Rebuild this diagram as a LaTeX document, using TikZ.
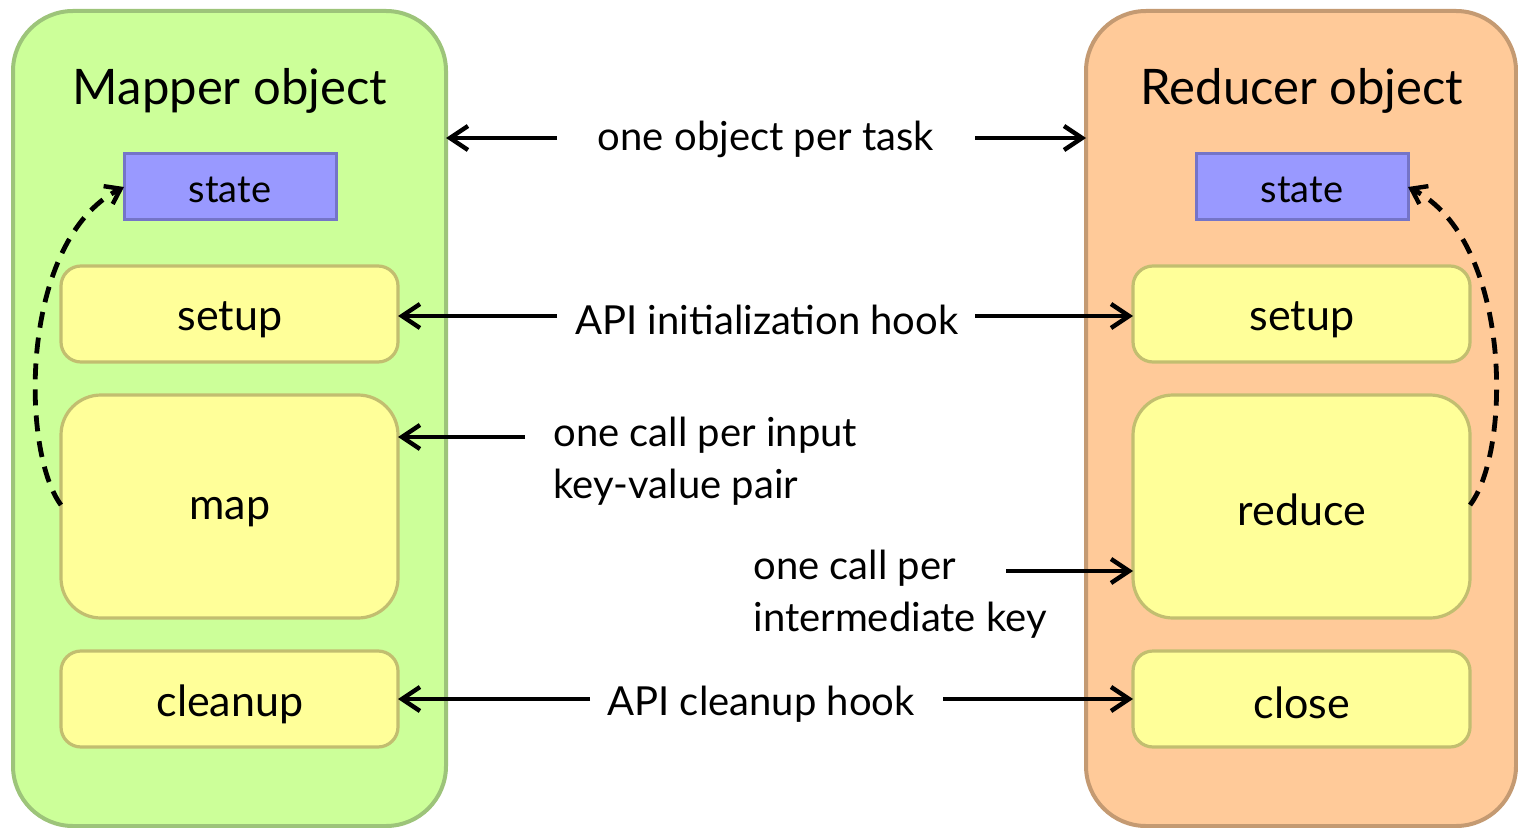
\documentclass[tikz,border=0pt]{standalone}
\usepackage{fontspec}
\setmainfont{Lato}
\usetikzlibrary{arrows.meta}
\definecolor{mapfill}{HTML}{CCFF99}
\definecolor{mapline}{HTML}{9DC47A}
\definecolor{redfill}{HTML}{FFCA99}
\definecolor{redline}{HTML}{C49A72}
\definecolor{statefill}{HTML}{9999FF}
\definecolor{stateline}{HTML}{7474C8}
\definecolor{boxfill}{HTML}{FFFF99}
\definecolor{boxline}{HTML}{C2BE70}
\tikzset{
  objbox/.style={draw=#1, line width=2pt, rounded corners=30pt},
  statebox/.style={draw=stateline, fill=statefill, line width=1.5pt},
  statelabel/.style={font=\fontsize{19}{22}\selectfont},
  callbox/.style={draw=boxline, fill=boxfill, line width=1.6pt, rounded corners=10pt},
  bigcall/.style={callbox, rounded corners=20pt},
  calllabel/.style={font=\fontsize{21.5}{26}\selectfont},
  hook/.style={line width=2.2pt, -{Straight Barb[length=9pt,width=12pt,line width=2.2pt]}},
  loopback/.style={line width=2.4pt, dash pattern=on 8pt off 5pt, -{Straight Barb[length=7pt,width=10pt,line width=2.2pt]}},
  caption/.style={font=\fontsize{20}{26}\selectfont, inner sep=0pt},
  title/.style={font=\fontsize{24.5}{28}\selectfont, inner sep=0pt}
}
\begin{document}
\begin{tikzpicture}[x=0.5pt,y=-0.5pt]
\useasboundingbox (0,0) rectangle (1518,828);
% object containers
\draw[objbox=mapline, fill=mapfill] (13,11) rectangle (446,826);
\draw[objbox=redline, fill=redfill] (1086,11) rectangle (1516,826);
\node[title] (mtitle) at (230,91) {Mapper object};
\node[title] (rtitle) at (1302,91) {Reducer object};
% mapper parts
\path[statebox] (124,154) rectangle (336,220);
\node[statelabel] (mstate) at (230,190) {state};
\coordinate (mstateW) at (124,187);
\draw[callbox] (61,266) rectangle (398,362);
\node[calllabel] (msetup) at (230,320) {setup};
\draw[bigcall] (61,395) rectangle (398,618);
\node[calllabel] (mmap) at (230,512) {map};
\draw[callbox] (61,651) rectangle (398,747);
\node[calllabel] (mclean) at (230,704) {cleanup};
% reducer parts
\path[statebox] (1196,154) rectangle (1408,220);
\node[statelabel] (rstate) at (1302,190) {state};
\coordinate (rstateE) at (1408,187);
\draw[callbox] (1133,266) rectangle (1470,362);
\node[calllabel] (rsetup) at (1302,320) {setup};
\draw[bigcall] (1133,395) rectangle (1470,618);
\node[calllabel] (rreduce) at (1302,510) {reduce};
\draw[callbox] (1133,651) rectangle (1470,747);
\node[calllabel] (rclose) at (1302,703) {close};
% edge anchors of the boxes
\coordinate (mobjE) at (446,138);
\coordinate (robjW) at (1086,138);
\coordinate (msetupE) at (398,316);
\coordinate (rsetupW) at (1133,316);
\coordinate (mmapE) at (398,437);
\coordinate (mmapW) at (61,505);
\coordinate (rredW) at (1133,571);
\coordinate (rredE) at (1470,505);
\coordinate (mcleanE) at (398,699);
\coordinate (rcloseW) at (1133,699);
% captions
\node[caption] (task) at (766,139) {one object per task};
\node[caption] (init) at (767,320) {API initialization hook};
\node[caption, align=left, anchor=west] (input) at (553,461) {one call per input\\key-value pair};
\node[caption, align=left, anchor=west] (inter) at (753,594) {one call per\\intermediate key};
\node[caption] (clean) at (761,704) {API cleanup hook};
% hook arrows
\coordinate (taskL) at (557,138); \coordinate (taskR) at (975,138);
\coordinate (initL) at (557,316); \coordinate (initR) at (975,316);
\coordinate (inputL) at (525,437);
\coordinate (interR) at (1006,571);
\coordinate (cleanL) at (590,699); \coordinate (cleanR) at (943,699);
\draw[hook] (taskL) -- (mobjE);
\draw[hook] (taskR) -- (robjW);
\draw[hook] (initL) -- (msetupE);
\draw[hook] (initR) -- (rsetupW);
\draw[hook] (inputL) -- (mmapE);
\draw[hook] (interR) -- (rredW);
\draw[hook] (cleanL) -- (mcleanE);
\draw[hook] (cleanR) -- (rcloseW);
% state carried across calls
\draw[loopback] (mmapW) .. controls (20,450) and (20,240) .. (mstateW);
\draw[loopback] (rredE) .. controls (1512,450) and (1512,240) .. (rstateE);
\end{tikzpicture}
\end{document}
